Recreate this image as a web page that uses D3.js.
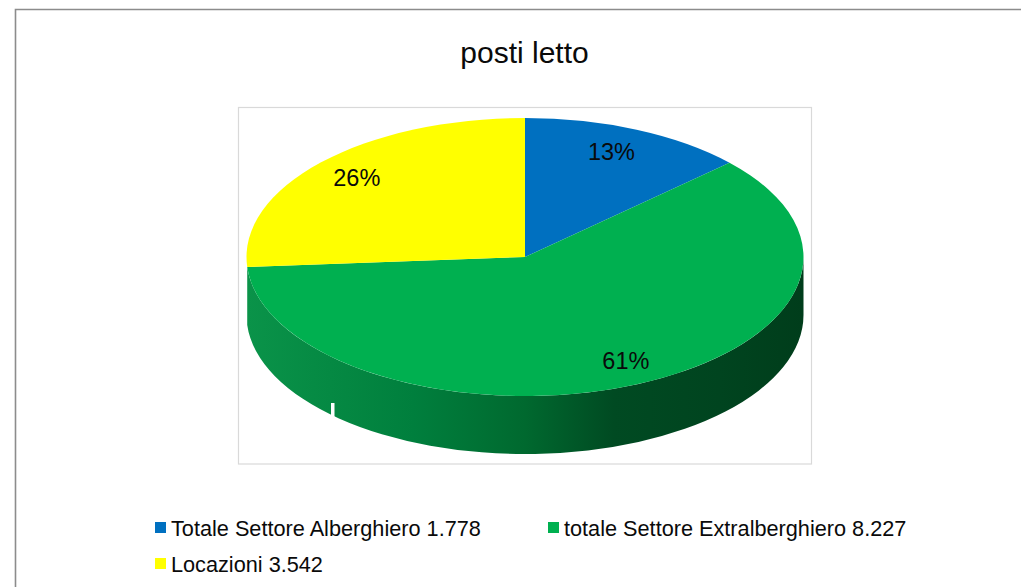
<!DOCTYPE html>
<html>
<head>
<meta charset="utf-8">
<script src="https://d3js.org/d3.v7.min.js"></script>
<style>
  html, body { margin: 0; padding: 0; background: #fff; overflow: hidden; }
  text { font-family: "Liberation Sans", Arial, sans-serif; fill: #0a0a0a; }
</style>
</head>
<body>
<div id="chart"></div>
<script>
var categories = ["Totale Settore Alberghiero", "totale Settore Extralberghiero", "Locazioni"];
var valueLabels = ["1.778", "8.227", "3.542"];
var values = [1778, 8227, 3542];
var colors = ["#0070C0", "#00B050", "#FFFF00"];

var width = 1021, height = 587;
var cx = 525, cy = 257, rx = 278.5, ry = 139, depth = 58;

var svg = d3.select("#chart").append("svg")
  .attr("width", width)
  .attr("height", height);

// outer frame, only top and left are in the crop
svg.append("path")
  .attr("d", "M15.5,587V9.5H1021")
  .attr("fill", "none")
  .attr("stroke", "#8c8c8c")
  .attr("stroke-width", 1.6);

svg.append("text")
  .attr("x", 524.5)
  .attr("y", 63)
  .attr("text-anchor", "middle")
  .style("font-size", "30px")
  .text("posti letto");

svg.append("rect")
  .attr("x", 238.5)
  .attr("y", 107.5)
  .attr("width", 573)
  .attr("height", 356.5)
  .attr("fill", "#fff")
  .attr("stroke", "#d9d9d9")
  .attr("stroke-width", 1.2);

var pie = d3.pie().value((d) => d).sort(null);
var slices = pie(values);
var total = d3.sum(values);

// the pie is drawn round and squashed, angles then stay true to the data
var arc = d3.arc().innerRadius(0).outerRadius(rx);

var defs = svg.append("defs");
var grad = defs.append("linearGradient")
  .attr("id", "wall")
  .attr("gradientUnits", "userSpaceOnUse")
  .attr("x1", cx - rx).attr("x2", cx + rx)
  .attr("y1", 0).attr("y2", 0);
[
  [0, "#0a9349"],
  [0.3, "#007f3d"],
  [0.5, "#00692f"],
  [0.66, "#004a22"],
  [0.85, "#00441f"],
  [1, "#003d1b"],
].forEach((s) => {
  grad.append("stop").attr("offset", s[0]).attr("stop-color", s[1]);
});

// side wall of the green slice, from the right edge round to where it ends
var green = slices[1];
var wallEndX = cx + rx * Math.sin(green.endAngle);
var wallEndY = cy - ry * Math.cos(green.endAngle);
var wallPath = "M" + (cx + rx) + "," + cy +
  "V" + (cy + depth) +
  "A" + rx + "," + ry + " 0 0 1 " + wallEndX + "," + (wallEndY + depth) +
  "V" + wallEndY +
  "A" + rx + "," + ry + " 0 0 0 " + (cx + rx) + "," + cy + "Z";

svg.append("path")
  .attr("d", wallPath)
  .attr("fill", "url(#wall)");

var top3d = svg.append("g")
  .attr("transform", "translate(" + cx + "," + cy + ") scale(1," + ry / rx + ")");

top3d.selectAll("path")
  .data(slices)
  .enter()
  .append("path")
  .attr("d", arc)
  .attr("fill", (d, i) => colors[i]);

// small white tick sitting on the wall in the source image
svg.append("rect")
  .attr("x", 331)
  .attr("y", 403)
  .attr("width", 3.5)
  .attr("height", 16)
  .attr("fill", "#fff");

// labels sit at 82% of the radius, nudged a bit like the source chart
var nudgeX = d3.scaleOrdinal().domain([0, 1, 2]).range([-5, 10, -1]);

svg.selectAll(".pct")
  .data(slices)
  .enter()
  .append("text")
  .attr("class", "pct")
  .attr("x", (d, i) => cx + 0.82 * rx * Math.sin((d.startAngle + d.endAngle) / 2) + nudgeX(i))
  .attr("y", (d) => cy - 0.82 * ry * Math.cos((d.startAngle + d.endAngle) / 2) + 7)
  .attr("text-anchor", "middle")
  .style("font-size", "23.5px")
  .text((d) => Math.round((d.value / total) * 100) + "%");

var legendX = d3.scaleOrdinal().domain([0, 1, 2]).range([155, 548, 155]);
var legendY = d3.scaleOrdinal().domain([0, 1, 2]).range([528, 528, 564]);

var legend = svg.selectAll(".legend")
  .data(categories)
  .enter()
  .append("g")
  .attr("class", "legend")
  .attr("transform", (d, i) => "translate(" + legendX(i) + "," + legendY(i) + ")");

legend.append("rect")
  .attr("x", 0)
  .attr("y", -6)
  .attr("width", 11)
  .attr("height", 11)
  .attr("fill", (d, i) => colors[i]);

legend.append("text")
  .attr("x", 16)
  .attr("y", 7.5)
  .style("font-size", "21.7px")
  .text((d, i) => d + " " + valueLabels[i]);
</script>
</body>
</html>
